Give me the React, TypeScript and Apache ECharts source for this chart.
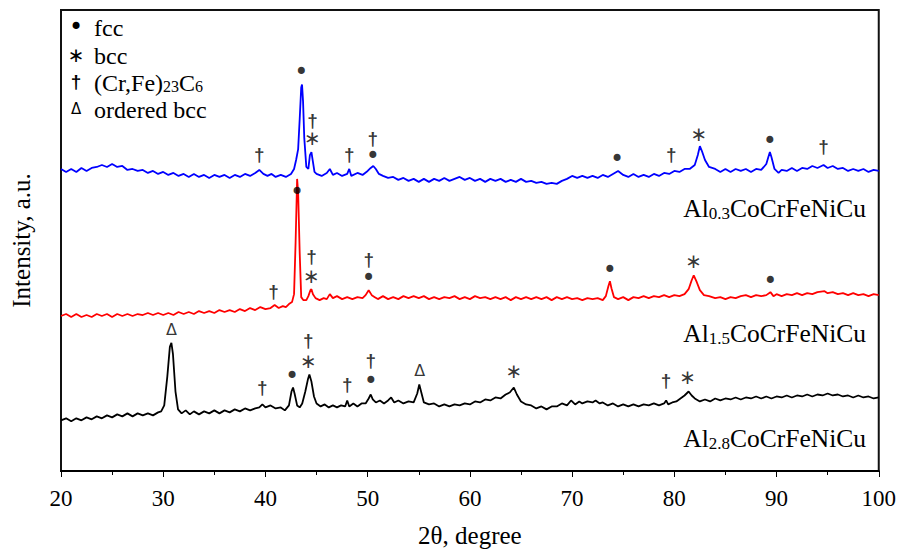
import React, { useEffect, useRef } from "react";
import * as echarts from "echarts";

// 2θ (degree) vs intensity (a.u., patterns stacked)
const blueAl03: [number, number][] = [
  [20,304],[20.5,301],[21,304],[21.5,301],[22,305],[22.5,302],[23,305],[23.5,306],[24,308],[24.5,306],[25,309],[25.5,306],[26,307],[26.5,303],[27,304],[27.5,302],[28,303],[28.5,300],[29,302],[29.5,299],[30,301],[30.5,298],[31,300],[31.5,297],[32,299],[32.5,296],[33,299],[33.5,296],[34,298],[34.5,295],[35,298],[35.5,296],[36,298],[36.5,295],[37,298],[37.5,296],[38,299],[38.5,297],[39,300],[39.4,303],[39.8,299],[40.2,297],[40.6,299],[41,296],[41.5,298],[42,296],[42.5,299],[42.8,304],[43.0,313],[43.2,324],[43.35,354],[43.5,386],[43.58,389],[43.68,372],[43.8,335],[44.0,306],[44.2,304],[44.35,318],[44.5,321],[44.62,313],[44.8,301],[45,299],[45.5,297],[46,300],[46.3,304],[46.6,298],[47,300],[47.5,297],[48,299],[48.2,304],[48.4,297],[49,300],[49.5,298],[50,302],[50.3,305],[50.55,307],[50.8,304],[51.1,299],[51.5,297],[52,295],[52.5,296],[53,293],[53.5,295],[54,292],[54.5,294],[55,291],[55.5,294],[56,291],[56.5,294],[57,292],[57.5,295],[58,292],[58.5,294],[59,296],[59.5,293],[60,295],[60.5,292],[61,294],[61.5,291],[62,294],[62.5,292],[63,294],[63.5,291],[64,293],[64.5,291],[65,294],[65.5,291],[66,292],[66.5,290],[67,291],[67.5,289],[68,290],[68.5,289],[69,292],[69.5,294],[70,297],[70.5,295],[71,297],[71.5,295],[72,297],[72.5,295],[73,298],[73.5,296],[74,299],[74.5,302],[75,298],[75.5,296],[76,299],[76.5,296],[77,298],[77.5,296],[78,299],[78.5,297],[79,300],[79.5,299],[80,302],[80.5,301],[81,304],[81.5,304],[82,308],[82.3,318],[82.5,327],[82.7,322],[83,313],[83.4,306],[84,304],[84.5,301],[85,304],[85.5,301],[86,304],[86.5,302],[87,304],[87.5,301],[88,304],[88.5,303],[89,309],[89.2,316],[89.35,321],[89.5,316],[89.8,304],[90.2,300],[90.5,303],[91,302],[91.5,305],[92,302],[92.5,305],[93,304],[93.5,307],[94,305],[94.6,308],[95,305],[95.5,307],[96,304],[96.5,305],[97,302],[97.5,304],[98,302],[98.5,304],[99,301],[99.5,303],[100,302]
];

const redAl15: [number, number][] = [
  [20,156],[20.5,158],[21,155],[21.5,158],[22,155],[22.5,157],[23,155],[23.5,158],[24,156],[24.5,158],[25,155],[25.5,158],[26,156],[26.5,158],[27,156],[27.5,158],[28,157],[28.5,159],[29,157],[29.5,159],[30,157],[30.5,159],[31,157],[31.5,160],[32,158],[32.5,160],[33,158],[33.5,161],[34,159],[34.5,161],[35,159],[35.5,162],[36,160],[36.5,162],[37,160],[37.5,163],[38,161],[38.5,164],[39,162],[39.5,165],[40,163],[40.5,164],[40.9,167],[41.3,164],[41.7,166],[42,165],[42.3,168],[42.6,170],[42.8,178],[42.95,230],[43.1,294],[43.2,280],[43.35,220],[43.5,175],[43.7,172],[44.0,172],[44.2,176],[44.4,182],[44.5,183],[44.65,178],[44.9,174],[45.3,172],[45.7,174],[46,173],[46.3,178],[46.6,174],[47,176],[47.5,173],[48,175],[48.5,173],[49,175],[49.5,174],[49.8,177],[50.1,182],[50.4,177],[50.7,175],[51,173],[51.5,176],[52,173],[52.5,175],[53,173],[53.5,176],[54,174],[54.5,176],[55,174],[55.5,176],[56,173],[56.5,175],[57,173],[57.5,175],[58,174],[58.5,176],[59,173],[59.5,175],[60,173],[60.5,176],[61,174],[61.5,175],[62,173],[62.5,175],[63,173],[63.5,175],[64,172],[64.5,175],[65,173],[65.5,175],[66,173],[66.5,175],[67,173],[67.5,175],[68,172],[68.5,175],[69,173],[69.5,175],[70,173],[70.5,174],[71,172],[71.5,174],[72,173],[72.5,174],[73,172],[73.3,176],[73.55,186],[73.7,191],[73.85,184],[74.1,175],[74.5,173],[75,175],[75.5,172],[76,175],[76.5,174],[77,176],[77.5,174],[78,176],[78.5,175],[79,177],[79.5,175],[80,177],[80.5,176],[81,178],[81.4,183],[81.7,192],[81.9,197],[82.2,190],[82.5,182],[82.9,177],[83.4,176],[84,174],[84.5,175],[85,173],[85.5,175],[86,174],[86.5,176],[87,177],[87.5,175],[88,177],[88.5,176],[89,177],[89.4,180],[89.7,176],[90,178],[90.5,176],[91,178],[91.5,177],[92,179],[92.5,177],[93,179],[93.5,178],[94,180],[94.7,181],[95,179],[95.5,180],[96,178],[96.5,179],[97,177],[97.5,179],[98,177],[98.5,178],[99,176],[99.5,178],[100,177]
];

const blackAl28: [number, number][] = [
  [20,51],[20.5,53],[21,50],[21.5,53],[22,51],[22.5,54],[23,52],[23.5,55],[24,53],[24.5,56],[25,54],[25.5,57],[26,55],[26.5,58],[27,55],[27.5,58],[28,56],[28.5,58],[29,56],[29.5,59],[29.8,60],[30.1,66],[30.4,95],[30.65,125],[30.8,129],[30.95,118],[31.2,80],[31.45,62],[31.8,58],[32.2,61],[32.6,57],[33,60],[33.5,57],[34,60],[34.5,58],[35,61],[35.5,58],[36,61],[36.5,59],[37,62],[37.5,60],[38,63],[38.5,61],[39,63],[39.4,64],[39.7,67],[40,64],[40.5,66],[41,63],[41.5,64],[41.9,61],[42.3,66],[42.55,80],[42.7,84],[42.85,78],[43.1,66],[43.35,64],[43.6,68],[43.9,80],[44.15,92],[44.3,97],[44.5,90],[44.75,75],[45,68],[45.4,65],[45.8,67],[46.2,64],[46.6,66],[47,64],[47.4,66],[47.8,65],[48,71],[48.2,65],[48.6,68],[49,65],[49.4,68],[49.8,68],[50.1,73],[50.3,77],[50.5,72],[50.8,69],[51.2,71],[51.6,68],[52,71],[52.3,74],[52.6,69],[53,71],[53.5,68],[54,70],[54.5,69],[54.85,78],[55.05,87],[55.25,79],[55.5,69],[56,67],[56.5,68],[57,65],[57.5,67],[58,65],[58.5,67],[59,66],[59.5,68],[60,67],[60.5,70],[61,69],[61.5,72],[62,71],[62.5,74],[63,73],[63.5,77],[63.9,79],[64.3,84],[64.6,77],[65,70],[65.5,67],[66,66],[66.5,63],[67,65],[67.5,62],[68,65],[68.5,65],[69,68],[69.5,66],[69.9,71],[70.3,67],[70.7,70],[71,68],[71.5,70],[72,69],[72.3,71],[72.7,68],[73,69],[73.5,66],[74,68],[74.5,65],[75,67],[75.5,65],[76,67],[76.5,65],[77,67],[77.5,66],[78,68],[78.5,66],[79,68],[79.2,71],[79.4,67],[79.8,69],[80.2,70],[80.6,73],[81,76],[81.4,80],[81.7,76],[82,73],[82.5,70],[83,72],[83.5,70],[84,73],[84.5,71],[85,73],[85.5,72],[86,74],[86.5,72],[87,74],[87.5,73],[88,75],[88.5,73],[89,75],[89.5,73],[90,75],[90.5,74],[91,76],[91.5,74],[92,76],[92.5,75],[93,77],[93.5,75],[94,77],[94.5,76],[95,78],[95.5,76],[96,77],[96.5,75],[97,76],[97.5,74],[98,76],[98.5,74],[99,75],[99.5,73],[100,74]
];

// Phase marks: [2θ, intensity, symbol]
const FCC = "•";
const BCC = "∗";
const CARB = "†";
const ORD = "Δ";

const phaseMarks: [number, number, string][] = [
  // Al0.3
  [39.4, 319, CARB], [43.5, 402, FCC], [44.6, 353, CARB], [44.6, 335, BCC], [48.2, 319, CARB],
  [50.5, 335, CARB], [50.5, 317, FCC], [74.4, 314, FCC], [79.7, 319, CARB], [82.4, 339, BCC],
  [89.35, 332, FCC], [94.6, 327, CARB],
  // Al1.5
  [40.8, 181, CARB], [43.1, 281, FCC], [44.5, 216, CARB], [44.5, 196, BCC], [50.1, 213, CARB],
  [50.1, 194, FCC], [73.7, 202, FCC], [81.9, 211, BCC], [89.4, 191, FCC],
  // Al2.8
  [30.8, 142, ORD], [39.7, 84, CARB], [42.6, 96, FCC], [44.2, 131, CARB], [44.2, 111, BCC],
  [48.0, 87, CARB], [50.3, 111, CARB], [50.3, 91, FCC], [55.1, 101, ORD], [64.3, 101, BCC],
  [79.2, 91, CARB], [81.3, 95, BCC],
];

const xTicks = [20, 30, 40, 50, 60, 70, 80, 90, 100];

const legendRows = [
  { sym: FCC, text: "{m|fcc}" },
  { sym: BCC, text: "{m|bcc}" },
  { sym: CARB, text: "{m|(Cr,Fe)}{s|23}{m|C}{s|6}" },
  { sym: ORD, text: "{m|ordered bcc}" },
];

const seriesLabels = [
  { text: "{m|Al}{s|0.3}{m|CoCrFeNiCu}", color: "#0000ff" },
  { text: "{m|Al}{s|1.5}{m|CoCrFeNiCu}", color: "#ff0000" },
  { text: "{m|Al}{s|2.8}{m|CoCrFeNiCu}", color: "#000000" },
];

const SERIF = "'Times New Roman', 'Liberation Serif', serif";

const symStyle: Record<string, { font: string; size: number; weight: string }> = {
  [FCC]: { font: "'DejaVu Sans'", size: 24, weight: "normal" },
  [BCC]: { font: "'DejaVu Sans'", size: 20, weight: "normal" },
  [CARB]: { font: "'Liberation Sans'", size: 19, weight: "bold" },
  [ORD]: { font: "'DejaVu Sans'", size: 16, weight: "normal" },
};

export default function App() {
  const ref = useRef<HTMLDivElement>(null);
  useEffect(() => {
    if (!ref.current) return;
    const chart = echarts.init(ref.current, undefined, { renderer: "svg" });

    const markSeries = [FCC, BCC, CARB, ORD].map((s) => ({
      type: "scatter",
      name: "marks" + s,
      symbolSize: 1,
      itemStyle: { color: "rgba(0,0,0,0)" },
      silent: true,
      z: 5,
      data: phaseMarks.filter((m) => m[2] === s).map((m) => [m[0], m[1]]),
      label: {
        show: true,
        position: "inside",
        formatter: () => s,
        color: "#000",
        textBorderWidth: 0,
        textBorderColor: "transparent",
        textShadowBlur: 0,
        fontFamily: symStyle[s].font,
        fontSize: symStyle[s].size,
        fontWeight: symStyle[s].weight,
        align: "center",
        verticalAlign: "middle",
      },
    }));

    const richMain = (size: number, color: string) => ({
      m: { fontFamily: SERIF, fontSize: size, lineHeight: 26, verticalAlign: "bottom", color },
      s: { fontFamily: SERIF, fontSize: Math.round(size * 0.67), lineHeight: 12, verticalAlign: "bottom", color },
    });

    const legendY = [27, 54.5, 81.5, 108.5];
    const labelY = [208.5, 333.5, 438.5];

    const graphic: any[] = [];
    legendRows.forEach((r, i) => {
      graphic.push({
        type: "text",
        x: 76,
        y: legendY[i],
        style: {
          text: r.sym,
          fontFamily: symStyle[r.sym].font,
          fontSize: r.sym === ORD ? 15 : symStyle[r.sym].size,
          fontWeight: symStyle[r.sym].weight,
          fill: "#000",
          align: "center",
          verticalAlign: "middle",
        },
      });
      graphic.push({
        type: "text",
        x: 94,
        y: legendY[i],
        style: {
          text: r.text,
          rich: richMain(24, "#000"),
          align: "left",
          verticalAlign: "middle",
        },
      });
    });
    seriesLabels.forEach((l, i) => {
      graphic.push({
        type: "text",
        x: 866,
        y: labelY[i],
        style: {
          text: l.text,
          rich: richMain(25.5, l.color),
          align: "right",
          verticalAlign: "middle",
        },
      });
    });

    chart.setOption({
      animation: false,
      grid: {
        left: 61,
        right: 18,
        top: 10,
        bottom: 79,
        show: true,
        borderColor: "#111",
        borderWidth: 2,
        backgroundColor: "transparent",
      },
      xAxis: {
        type: "value",
        min: xTicks[0],
        max: xTicks[xTicks.length - 1],
        interval: 10,
        name: "2θ, degree",
        nameLocation: "middle",
        nameGap: 52,
        nameTextStyle: { fontFamily: SERIF, fontSize: 25, color: "#000" },
        axisLine: { show: true, lineStyle: { color: "#000", width: 2 } },
        axisTick: { show: true, inside: false, length: 6, lineStyle: { color: "#000", width: 1 } },
        minorTick: { show: true, splitNumber: 2, length: 4, lineStyle: { color: "#000", width: 1 } },
        axisLabel: { fontFamily: SERIF, fontSize: 23, color: "#000", margin: 16 },
        splitLine: { show: false },
      },
      yAxis: {
        type: "value",
        min: 0,
        max: 464,
        name: "Intensity, a.u.",
        nameLocation: "middle",
        nameGap: 27,
        nameRotate: 90,
        nameTextStyle: { fontFamily: SERIF, fontSize: 25, color: "#000" },
        axisLine: { show: false },
        axisTick: { show: false },
        axisLabel: { show: false },
        splitLine: { show: false },
      },
      series: [
        { type: "line", name: "Al0.3CoCrFeNiCu", data: blueAl03, showSymbol: false, lineStyle: { color: "#0000ff", width: 1.8 }, silent: true },
        { type: "line", name: "Al1.5CoCrFeNiCu", data: redAl15, showSymbol: false, lineStyle: { color: "#ff0000", width: 1.8 }, silent: true },
        { type: "line", name: "Al2.8CoCrFeNiCu", data: blackAl28, showSymbol: false, lineStyle: { color: "#000000", width: 1.8 }, silent: true },
        ...markSeries,
      ],
      graphic,
    });
    return () => chart.dispose();
  }, []);
  return (
    <div
      ref={ref}
      style={{ position: "fixed", left: 0, top: 0, width: 899, height: 553, background: "#fff" }}
    />
  );
}
